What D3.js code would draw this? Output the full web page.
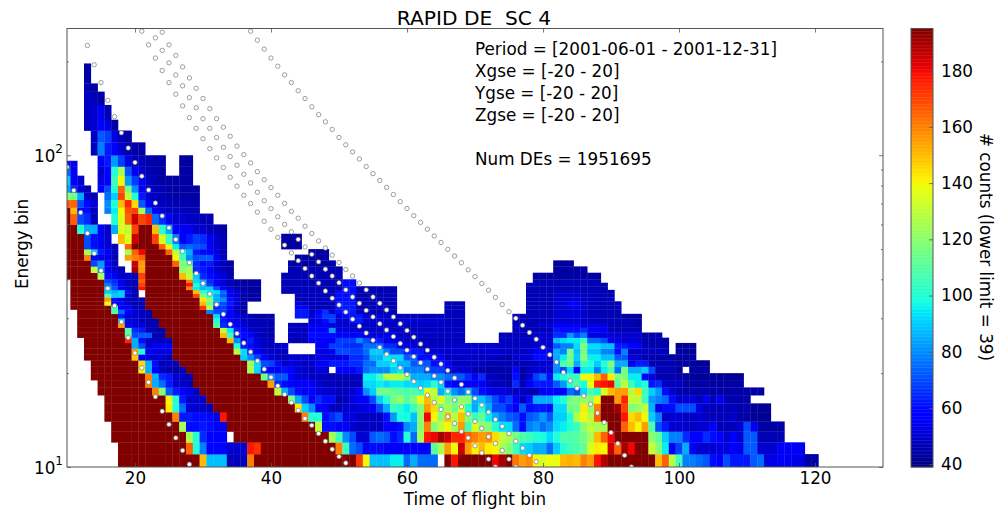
<!DOCTYPE html>
<html>
<head>
<meta charset="utf-8">
<script src="https://d3js.org/d3.v7.min.js"></script>
<style>
html, body { margin: 0; padding: 0; background: #fff; }
text { font-family: "DejaVu Sans", sans-serif; fill: #000; }
.axis path, .axis line { stroke: #555; stroke-width: 0.8; }
</style>
</head>
<body>
<svg id="chart" width="1008" height="510"></svg>
<script>
// saturated cell, top of the colour bar
var S = 195;

// lower edge of every energy row, last one closes the top row
var energyEdges = [10,11,12,13,14,15,16,17,18,19,20,21,22,23,24,25,26,27,28,29,30,31,32,33,34,35,36,37,38,39,
    40,42,44,46,48,50,52,56,60,65,68,72,76,80,86,92,96,100,110,120,130,145,160,170,197];

// counts per row, each chunk is [first time of flight bin, values...]
var countRows = [
 [[18,S,S,S,S,S,S,S,S,S,S,S,S,150,88,88,88,47,47,47,160],[38,S,S,S,S,S,S,S,S,S,S,S,S,S,S,S,172,140,88,88,88,95,95,75,85,75,75,75],[66,S,178,S,S,S,S,S,180,190,S,162,155,158,140,135,138,138,150,152,150,160,155,178,188],[90,S,S,S,S,S,S,S,150,165,128,105,78,78,75,72,60,58,70,62,62,62,72,75,52,53,55,55,53,52,44,44]],
 [[18,S,S,S,S,S,S,S,S,S,S,165,100,78,58,58,58,50,50,50,177,173],[39,S,S,S,S,S,S,S,S,S,S,S,160,105,75,70,55,60,60,55,55,58,58,58,58,58,110,125,155,140,185,155,140,150,142,140,125,118,105,92,90,85,85,75,90,100,105,108,112,135,142,140,185,165,190,180,S,S,132,118,95,55,68,85,55,50,50,50,52,52,57,53,72,72,50,50,50,55,55,55,55]],
 [[17,S,S,S,S,S,S,S,S,S,S,S,125,100,65,58,58,58],[35,S,S,S,S,S,S,S,S,S,S,S,S,S,S,125,105,80,70,50,50,72,75,72,60,65,100,75,125,178,180,190,185,175,175,165,160,155,158,145,130,125,115,108,105,100,98,92,100,108,108,110,115,125,150,165,180,S,S,S,S,S,120,112,90,78,78,65,58,58,65,60,58,50,58,50,72,72,46,46,46,46]],
 [[17,S,S,S,S,S,S,S,S,S,S,125,60,60,62,60,58,55],[34,S,S,S,S,S,S,S,S,S,S,S,S,S,130,60,60,55,55,50,48,48,48,48,55,55,60,80,85,120,160,118,130,140,122,155,105,135,120,118,100,92,92,75,60,78,82,75,80,92,95,100,105,120,130,125,125,S,S,165,150,140,155,108,70,62,50,50,50,48,50,50,58,47,47,47,50,70,55,44,44,44,44]],
 [[16,S,S,S,S,S,S,S,S,S,S,160,62,62,60,60,58,52,178],[34,S,S,S,S,S,S,S,S,S,S,S,160,100,100,60,65,70,52,52,48,48,48,48,60,82,98,98,88,120,180,140,120,150,128,150,118,105,112,95,85,78,72,70,60,72,75,82,72,90,90,100,128,140,128,165,S,S,S,178,145,150,140,90,78,48,50,50,48,48,50,47,47,47,47,50,44,44,42,42,42]],
 [[16,S,S,S,S,S,S,S,S,S,142,100,75,50,50,48,46],[32,S,S,S,S,S,S,S,S,S,S,S,S,142,90,80,58,55,48,46,50,50,52,52,55,70,85,105,100,95,105,118,155,145,115,125,115,135,100,85,100,85,70,70,62,55,72,60,62,62,60,92,92,115,115,142,122,160,S,S,190,170,118,122,130,85,52,60,60,70,70,70,52,47,47,47,47,47,45,45,42,42,42]],
 [[16,S,S,S,S,S,S,S,S,S,140,100,62,50,50,48],[31,S,S,S,S,S,S,S,S,S,S,S,S,118,85,70,55,65,60,60,45,48,52,55,55,70,90,100,115,122,110,118,138,150,125,135,118,112,120,120,85,88,80,70,62,68,55,48,60,85,85,85,95,100,115,118,122,120,140,S,S,155,175,130,130,105,82,78,75,60,50,50,52,47,55,47,55,47,45,45,45]],
 [[15,S,S,S,S,S,S,S,S,160,118,72,62,58,52,48],[30,S,S,S,S,S,S,S,S,S,S,S,130,85,70,60,55,58,52,50,50,48,48,50,55,80,90,115,115,112,110,108,108,105,135,130,85,95,80,75,85,70,60,55,52,52,50,48,48,46,46,55,58,58,58,75,70,92,108,100,135,150,155,155,128,145,105,90,82,60,50,45,45,45,45,45,44,44,44,44,44,44,44,44]],
 [[15,S,S,S,S,S,S,S,160,85,75,62,50,48,46],[29,S,S,S,S,S,S,S,S,S,S,S,155,65,60,58,55,58,55,50,48,48,46,46,46,48,92,92,95,92,95,95,92,92,90,92,100,90,60,58,58,55,55,55,50,47,48,45,65,47,55,62,62,62,72,82,100,108,98,138,175,178,180,110,130,105,95,100,62,65,48,48,48,44,44,44,44,44,44,44,44,44]],
 [[14,S,S,S,S,S,S,S,S,160,85,65,62,50,48,46],[29,S,S,S,S,S,S,S,S,S,S,115,80,72,72,58,50,50,48,48,47,46,46,46,48,48,95,95,105,128,128,128,118,85,85,85,80,80,75,72,72,65,58,65,48,48,45,45,60,45,50,68,75,60,95,100,105,105,138,140,150,165,142,118,118,95,95,58,52,46,45,45,44,44,42,42,42,42,42,42,42,42]],
 [[14,S,S,S,S,S,S,S,142,85,58,48,45,44,46],[28,S,S,S,S,S,S,S,S,S,125,92,60,58,55,60,58,50,48,48,52,50],[50,58,58,58,62,75,80,80,80,90,95,78,78,78,70,68,68,50,50,50,50,45,45,44,44,45,45,58,43,48,50,50,50,80,70,92,58,95,95,78,95,108,75,115,85,85,90,70,46,46,46,42],[102,44,44,44]],
 [[14,S,S,S,S,S,S,S,145,85,60,46,48,47],[27,S,S,S,S,S,S,S,S,S,S,125,92,70,68,60,50,52,50,48,50,55,55,62,62,62,65,65,75,75,90,90,95,85,85,72,72,72,60,58,58,48,48,48,48,48,46,46,46,46,48,46,48,48,50,50,80,108,115,85,105,100,90,100,118,85,85,52,62,62,46,46,46,46,44,44,44,42,42]],
 [[13,S,S,S,S,S,S,S,148,58,50,50,50,46],[26,S,S,S,S,S,S,S,S,S,S,90,80,68,58,50,48,46,50,50,50,48,52,52,52,52,55,65,65,70,85,85,95,92,92,72,72,60,60,55,55,48,48,48,48,48,48,48,48,45,45,50,50,50,60,60,50,85,95,115,90,120,95,95,88,88,72,72,50,50,45,45,45,45,44,43,43,43]],
 [[13,S,S,S,S,S,S,S,155,100,58,52,52,52],[26,S,S,S,S,S,S,S,S,S,128,92,60,55,50,50,48,48],[47,52,52,55,70,70,68,68,75,90,90,78,70,70,62,62,62,50,50,50,50,50,50,50,50,50,50,50,50,48,48,48,50,55,55,55,85,78,115,88,115,88,88,78,78,60,78,48,48,48,48,48,48],[100,43,43,43]],
 [[13,S,S,S,S,S,S,S,85,70,50,55,57,55],[26,S,S,S,S,S,S,S,S,S,100,62,60,52,48,46,50,50],[47,55,55,68,68,65,65,65,75,75,75,65,65,52,52,52,48,48,48,48,50,50,50,50,50,50,50,50,48,48,48,48,48,50,50,50,72,78,78,92,118,92,92,88,88,62,62,58,58,46,46,46,44],[100,42,42,42]],
 [[13,S,S,S,S,S,S,175,85,60,48,47,47,45],[26,S,S,S,S,S,S,S,S,150,80,58,62,50,48,47],[43,46,46,46,58,58,58,55,68,68,68,80,70,62,62,52,52,52,48,48,47,47,47,47,47,47,47],[74,48,48,48,48,48,50,50,50,88,92,95,95,105,75,75,70,52,52,50,50,50,45,45,45,45]],
 [[12,S,S,S,S,S,S,S,110,70,72,72,46,44],[25,S,S,S,S,S,S,S,S,150,105,62,60,58,48,46,45],[43,48,48,48,60,60,60,60,58,58,58,58,52,52,52,55,55,48,48,48,48,48,48,48,48,48,48],[74,47,47,47,47,47,50,50,50,65,65,82,70,78,52,52,52,52,50,50,50,50,45,45,45]],
 [[12,S,S,S,S,S,S,S,110,65,62,47,46,44],[25,S,S,S,S,S,S,S,S,130,95,62,58,50,48,46,45],[43,48,48,48,58,58,58,82,52,52,50,50,48,48,48,48,48,48,48,48,48,48,48,48,48,48,48],[76,47,47,47,47,47,47,62,60,60,60,65,55,55,55,46,46,46,46,46]],
 [[12,S,S,S,S,S,S,155,55,52,50,46,46],[24,S,S,S,S,S,S,S,S,110,65,58,55,50,47,47,47,46],[43,48,48,48,55,55,55,50,50,50,50,50,48,48,48,48,48,48,48,48,48,48,48,48,48,48,48],[76,47,47,47,47,50,50,55,55,55,55,52,52,52,52,46,46,46,46,44]],
 [[12,S,S,S,S,S,S,90,50,52,47,46,44],[24,S,S,S,S,S,S,S,S,100,62,58,52,50,46,46,46,46],[46,50,52,60,68,50,50,62,62,50,50,50,50,50,50,50,50,50,50,50,50,47,47,47],[76,47,47,47,47,47,47,50,50,50,50,50,47,47,47,46,46,46,46,44]],
 [[12,S,S,S,S,S,S,62,50,50,48,46],[23,S,S,S,S,S,S,S,S,S,92,60,58,52,48,46,44,44,44],[44,62,62,52,60,68,68,50,60,62,62,50,50,50,50,50,47,47,47,47,47,47,47,47,47,47],[76,46,46,47,47,47,47,50,50,52,52,50,47,47,47,46,46,44,44,44]],
 [[12,S,S,S,S,S,108,75,58,50,48,46],[23,S,S,S,S,S,S,S,S,78,70,68,56,48,44],[44,62,62,48,58,66,50,60,62,62,47,47,47,47,47,47],[66,47,47,47],[78,46,46,46,46,50,50,50,50,50,47,47,46,46,46]],
 [[11,S,S,S,S,S,S,105,58,58,48,46],[22,S,S,S,S,S,S,S,S,172,128,65,68,58,48,44],[44,55,55,47,47,47,47,62,62,62,46,46,46,46,46,46],[66,46,46,46],[78,46,46,46,46,50,50,52,52,50,47,47,46,46,46]],
 [[11,S,S,S,S,S,140,58,55,48,46,45],[22,S,S,S,S,S,S,S,S,150,115,78,70,62,50,45],[44,50,50,47,47,47,47,62,62,62,46,46,46,46,46,46],[66,46,46,46],[78,46,46,46,46,50,50,58,58,50,47,47,46,46,46]],
 [[11,S,S,S,S,S,155,60,55,47,46,46],[22,S,S,S,S,S,S,S,S,142,120,85,80,60,52,45,44,44],[44,47,47,47,47,47,47,60,60,60,46,46,46,46,46,46],[78,46,46,46,46,50,50,50,50,48,47,47,46,46]],
 [[11,S,S,S,S,S,110,90,90,52,45],[22,S,S,S,S,S,S,S,170,118,100,85,72,55,48,45,44,44],[44,47,47,47,47,47,47,60,60,60,46,46,46,46,46,46],[78,46,46,46,46,50,50,50,50,48,47,47,46,46]],
 [[11,S,S,S,S,S,90,85,90,60,45],[22,S,S,S,S,S,S,S,150,105,95,92,75,58,52,46,44,44],[42,46,46,47,47,47,47,47,47,60,60,60,46,46,46,46,46,46],[78,46,46,46,46,48,48,48,48,48,47,46,46,46]],
 [[11,S,S,S,S,S,90,72,55,47,45,178],[22,S,S,S,S,S,S,160,95,88,90,70,58,50,45,44,43,43],[42,46,46,47,47,46,46,46,46,46,60,60,45,45,45,45,45,45],[78,46,46,46,46,46,46,46,46,46,46,46,44]],
 [[11,S,S,S,S,S,78,68,55,47,45,170],[22,S,S,S,S,S,S,178,100,85,68,55,50,46,44,44,44,44],[42,46,46,46,46,46,46,46,46,46,60,60],[78,46,46,46,46,46,46,46,46,46,46,46,44]],
 [[11,S,S,S,S,S,70,65,55,48,46,165],[22,S,S,S,S,S,S,160,92,85,65,55,50,46,44,44,44,44],[42,46,46,46,46,46,46,46,46,46,60,60],[79,46,46,46,46,46,46,46,46,46,46]],
 [[10,S,S,S,S,S,125,60,55,48,50,46,170],[22,S,S,S,S,S,150,130,90,65,60,55,52,46],[42,46,46,46,46,46,46,46,46,46],[79,44,44,44,44,44,44,44,44,44,44]],
 [[10,S,S,S,S,130,80,55,50,46],[20,190,155],[22,S,S,S,S,S,120,125,65,62,58,50,47,44],[43,46,46,46,46,46,46,46,46],[82,44,44,44,44,44]],
 [[10,S,S,S,S,70,82,55,47],[20,185,155],[22,S,S,S,S,165,118,110,65,60,62,50,48,44],[43,44,44,44,44,44,44,44],[82,43,43,43]],
 [[10,S,S,S,160,58,52,52,46],[19,155,160,165],[22,S,S,S,S,140,105,80,70,72,72,55,48],[44,44,44,44,44,44]],
 [[10,S,S,S,125,90,62,55,48],[19,125,165,180],[22,S,S,S,165,130,100,85,62,58,58,52,46],[46,44,44,44]],
 [[10,S,S,S,70,60,55,50,46],[19,165,S,S,S,S,165,135,95,72,75,72,70,55,50,46],[42,44,44,44]],
 [[10,S,S,S,70,60,55,50],[18,150,135,185,S,S,170,135,105,78,55,62,68,65,55,50,46],[42,44,44,44]],
 [[10,S,S,100,85,85,55,48],[17,85,135,130,170,S,S,150,100,85,55,55,55,50,50,46,46,44]],
 [[10,S,165,70,65,47],[17,100,135,165,185,170,175,75,65,55,50,50,48,48,46,46]],
 [[10,S,150,60,60,47],[16,78,95,140,168,170,125,75,58,50,48,48,47,46,46]],
 [[10,165,165,70,60,50],[16,80,100,150,175,145,72,58,50,48,47,46,46,46,45]],
 [[10,120,115,85,48,46],[16,75,90,170,130,100,62,50,48,46,44,44,44,44,44]],
 [[10,85,65,50,46],[15,58,70,100,165,115,80,58,50,47,46,44,44,44,44,44]],
 [[10,90,55,50],[15,52,58,105,140,82,68,55,48,46,44,44,44,44,44]],
 [[10,75,55],[15,50,58,100,125,72,55,50,46,45,44],[27,44,44]],
 [[10,62,52],[15,55,62,82,68,52,47,46,45,44,44],[27,43,43]],
 [[15,55,62,82,68,52,47,46,45,44,44],[27,43,43]],
 [[14,47,78,62,58,50,46,45,44]],
 [[14,48,72,68,52,46,44]],
 [[13,47,50,58,52,44]],
 [[13,48,50,55,46]],
 [[13,48,46,44]],
 [[13,46,44]],
 [[13,44]]
];

// time of flight bin of the first point of each dotted curve
var curveStarts = [10, 13, 21, 23, 24, 37];

// energy bin of the dotted curves, one value per time of flight bin
var curveA = [91.7,77.1,65.5,56.2,48.4,42.6,37.4,32.9,29.2,26,23.2,20.8,18.7,16.8,15.1,13.7,12.4,11.3,10.2];
var curveB = [225,195,171,150,133,118,105.5,94.8,85.7,77.4,70.3,63.9,58.5,53.7,49.2,45.2,41.8,38.8,35.9,33.2,30.9,28.7,26.8,25,23.4,21.9,20.6,19.4,18.2,17.1,16.1,15.2,14.3,13.6,12.8,12.1,11.4,10.8,10.3];
var curveC = [250,226,205,187,171,157,144,132,122,113,105,98,91.3,85,79.6,74.4,70,65.7,61.4,57.9,54.5,51.5,48.6,45.9,43.3,41,38.9,36.7,34.8,33.1,31.4,29.8,28.3,26.9,25.5,24.2,23,21.9,20.8,19.8,18.8,17.9,17,16.1,15.3,14.5,13.8,13,12.4,11.7,11.1,10.6,10];
var curveD = [238,217,198,181,167,153,142,131,122,114,106,99,92.9,86.9,81.5,76.1,71.5,67.4,63.5,60,56.8,53.7,50.8,48.1,45.5,43.1,41,39,37,35.1,33.5,31.8,30.3,28.8,27.5,26.2,24.9,23.7,22.6,21.6,20.6,19.6,18.7,17.5,16.4,15.6,14.8,14,13.3,12.5,11.9,11.3,10.6,10];
var curveE = [248,226,209,192,177,164,152,141,131,123,115,107,100.5,94.5,88.6,83.5,78.7,74.4,70.1,66.1,62.8,59.2,56.1,53.1,50.4,47.8,45.3,43,41,38.9,37,35.1,33.5,31.9,30.3,28.8,27.4,26.1,24.8,23.7,22.5,21.4,20.4,19.3,18.4,17.4,16.6,15.8,15,14.2,13.5,12.8,12.1,11.5,10.9,10.4];
var curveF = [250,234,219,205,193,181,171,161,152,143,135,128,121,114,108,102.5,97.3,92,87.3,83,78.8,74.8,71,67.5,64,60.9,57.9,55.1,52.5,49.9,47.5,45.2,42.9,40.8,38.8,36.9,35,33.2,31.5,30,28.5,27,25.7,24.2,22.9,21.7,20.1,18.9,17.9,16.9,15.9,14.9,13.9,12.9,11.9,10.9,10];

var xTicks = [20, 40, 60, 80, 100, 120];
var yTicks = [10,20,30,40,50,60,70,80,90,100,200];
var colorTicks = [40, 60, 80, 100, 120, 140, 160, 180];
var infoLines = ['Period = [2001-06-01 - 2001-12-31]', 'Xgse = [-20 - 20]', 'Ygse = [-20 - 20]', 'Zgse = [-20 - 20]', '', 'Num DEs = 1951695'];

var plot = { left: 67, right: 883, top: 28.5, bottom: 467 };
var bar = { left: 911, right: 933 };

var svg = d3.select('#chart');

var x = d3.scaleLinear().domain([10, 130]).range([plot.left, plot.right]);
var y = d3.scaleLog().domain([10, 255]).range([plot.bottom, plot.top]);
var c = d3.scaleLinear().domain([39, 195]).range([plot.bottom, plot.top]);

// matplotlib jet
var jetR = d3.scaleLinear().domain([0, 0.35, 0.66, 0.89, 1]).range([0, 0, 255, 255, 128]);
var jetG = d3.scaleLinear().domain([0, 0.125, 0.375, 0.64, 0.91, 1]).range([0, 0, 255, 255, 0, 0]);
var jetB = d3.scaleLinear().domain([0, 0.11, 0.34, 0.65, 1]).range([128, 255, 255, 0, 0]);
function jet(v) {
    var t = Math.max(0, Math.min(1, (v - 39) / (195 - 39)));
    return 'rgb(' + Math.round(jetR(t)) + ',' + Math.round(jetG(t)) + ',' + Math.round(jetB(t)) + ')';
}

var cells = [];
countRows.forEach(function (row, i) {
    row.forEach(function (chunk) {
        chunk.slice(1).forEach(function (v, j) {
            cells.push({ tof: chunk[0] + j, lo: energyEdges[i], hi: energyEdges[i + 1], v: v });
        });
    });
});

svg.append('clipPath').attr('id', 'plotClip').append('rect')
    .attr('x', plot.left).attr('y', plot.top)
    .attr('width', plot.right - plot.left).attr('height', plot.bottom - plot.top);

var inner = svg.append('g').attr('clip-path', 'url(#plotClip)');

inner.selectAll('rect.cell')
    .data(cells)
    .enter().append('rect')
    .attr('class', 'cell')
    .attr('x', function (d) { return x(d.tof - 0.5); })
    .attr('y', function (d) { return y(d.hi); })
    .attr('width', function (d) { return x(d.tof + 0.5) - x(d.tof - 0.5) + 0.3; })
    .attr('height', function (d) { return y(d.lo) - y(d.hi) + 0.3; })
    .style('fill', function (d) { return jet(d.v); });

var curves = [curveA, curveB, curveC, curveD, curveE, curveF];
curves.forEach(function (curve, k) {
    inner.selectAll('circle.c' + k)
        .data(curve)
        .enter().append('circle')
        .attr('class', 'c' + k)
        .attr('cx', function (d, i) { return x(curveStarts[k] + i); })
        .attr('cy', function (d) { return y(d); })
        .attr('r', 2.2)
        .style('fill', '#fff')
        .style('stroke', '#777')
        .style('stroke-width', 0.7);
});

// frame
svg.append('rect')
    .attr('x', plot.left).attr('y', plot.top)
    .attr('width', plot.right - plot.left).attr('height', plot.bottom - plot.top)
    .style('fill', 'none').style('stroke', '#555').style('stroke-width', 1);

// axes, ticks point inwards on all four sides like the old matplotlib style
function styleAxis(g) {
    g.attr('class', 'axis');
    g.select('.domain').remove();
    g.selectAll('text').style('font-size', '16.8px');
}

var xAxis = d3.axisBottom(x).tickValues(xTicks).tickSizeInner(-4).tickPadding(5);
svg.append('g').attr('transform', 'translate(0,' + plot.bottom + ')').call(xAxis).call(styleAxis);
var xTop = d3.axisTop(x).tickValues(xTicks).tickSizeInner(-4).tickFormat('');
svg.append('g').attr('transform', 'translate(0,' + plot.top + ')').call(xTop).call(styleAxis);

function minorSize(d) { return (d === 10 || d === 100) ? 4 : 2; }

var yLeft = d3.axisLeft(y).tickValues(yTicks).tickSize(0).tickFormat('');
var gLeft = svg.append('g').attr('transform', 'translate(' + plot.left + ',0)').call(yLeft).call(styleAxis);
gLeft.selectAll('line').attr('x2', minorSize);
var yRight = d3.axisRight(y).tickValues(yTicks).tickSize(0).tickFormat('');
var gRight = svg.append('g').attr('transform', 'translate(' + plot.right + ',0)').call(yRight).call(styleAxis);
gRight.selectAll('line').attr('x2', function (d) { return -minorSize(d); });

[10, 100].forEach(function (d, i) {
    var t = svg.append('text')
        .attr('x', plot.left - 4).attr('y', y(d) + 7)
        .attr('text-anchor', 'end').style('font-size', '16.8px');
    t.append('tspan').text('10');
    t.append('tspan').text(i + 1).attr('dy', -9).style('font-size', '12px');
});

// colour bar
var levels = d3.range(39, 195, 0.5);
svg.selectAll('rect.level')
    .data(levels)
    .enter().append('rect')
    .attr('class', 'level')
    .attr('x', bar.left)
    .attr('y', function (d) { return c(d + 0.5); })
    .attr('width', bar.right - bar.left)
    .attr('height', function (d) { return c(d) - c(d + 0.5) + 0.4; })
    .style('fill', function (d) { return jet(d); });

svg.append('rect')
    .attr('x', bar.left).attr('y', plot.top)
    .attr('width', bar.right - bar.left).attr('height', plot.bottom - plot.top)
    .style('fill', 'none').style('stroke', '#555').style('stroke-width', 1);

var cAxis = d3.axisRight(c).tickValues(colorTicks).tickSizeInner(-4).tickPadding(8);
svg.append('g').attr('transform', 'translate(' + bar.right + ',0)').call(cAxis).call(styleAxis);

// titles and labels
svg.append('text').attr('x', 474).attr('y', 25)
    .attr('text-anchor', 'middle').style('font-size', '20.2px').style('white-space', 'pre')
    .text('RAPID DE  SC 4');
svg.append('text').attr('x', 475).attr('y', 505)
    .attr('text-anchor', 'middle').style('font-size', '16.8px')
    .text('Time of flight bin');
svg.append('text').attr('transform', 'translate(28,244) rotate(-90)')
    .attr('text-anchor', 'middle').style('font-size', '16.8px')
    .text('Energy bin');
svg.append('text').attr('transform', 'translate(980,247) rotate(90)')
    .attr('text-anchor', 'middle').style('font-size', '16.8px')
    .text('# counts (lower limit = 39)');

svg.selectAll('text.info')
    .data(infoLines)
    .enter().append('text')
    .attr('class', 'info')
    .attr('x', 475)
    .attr('y', function (d, i) { return 55 + i * 22; })
    .style('font-size', '16.8px')
    .text(function (d) { return d; });
</script>
</body>
</html>
